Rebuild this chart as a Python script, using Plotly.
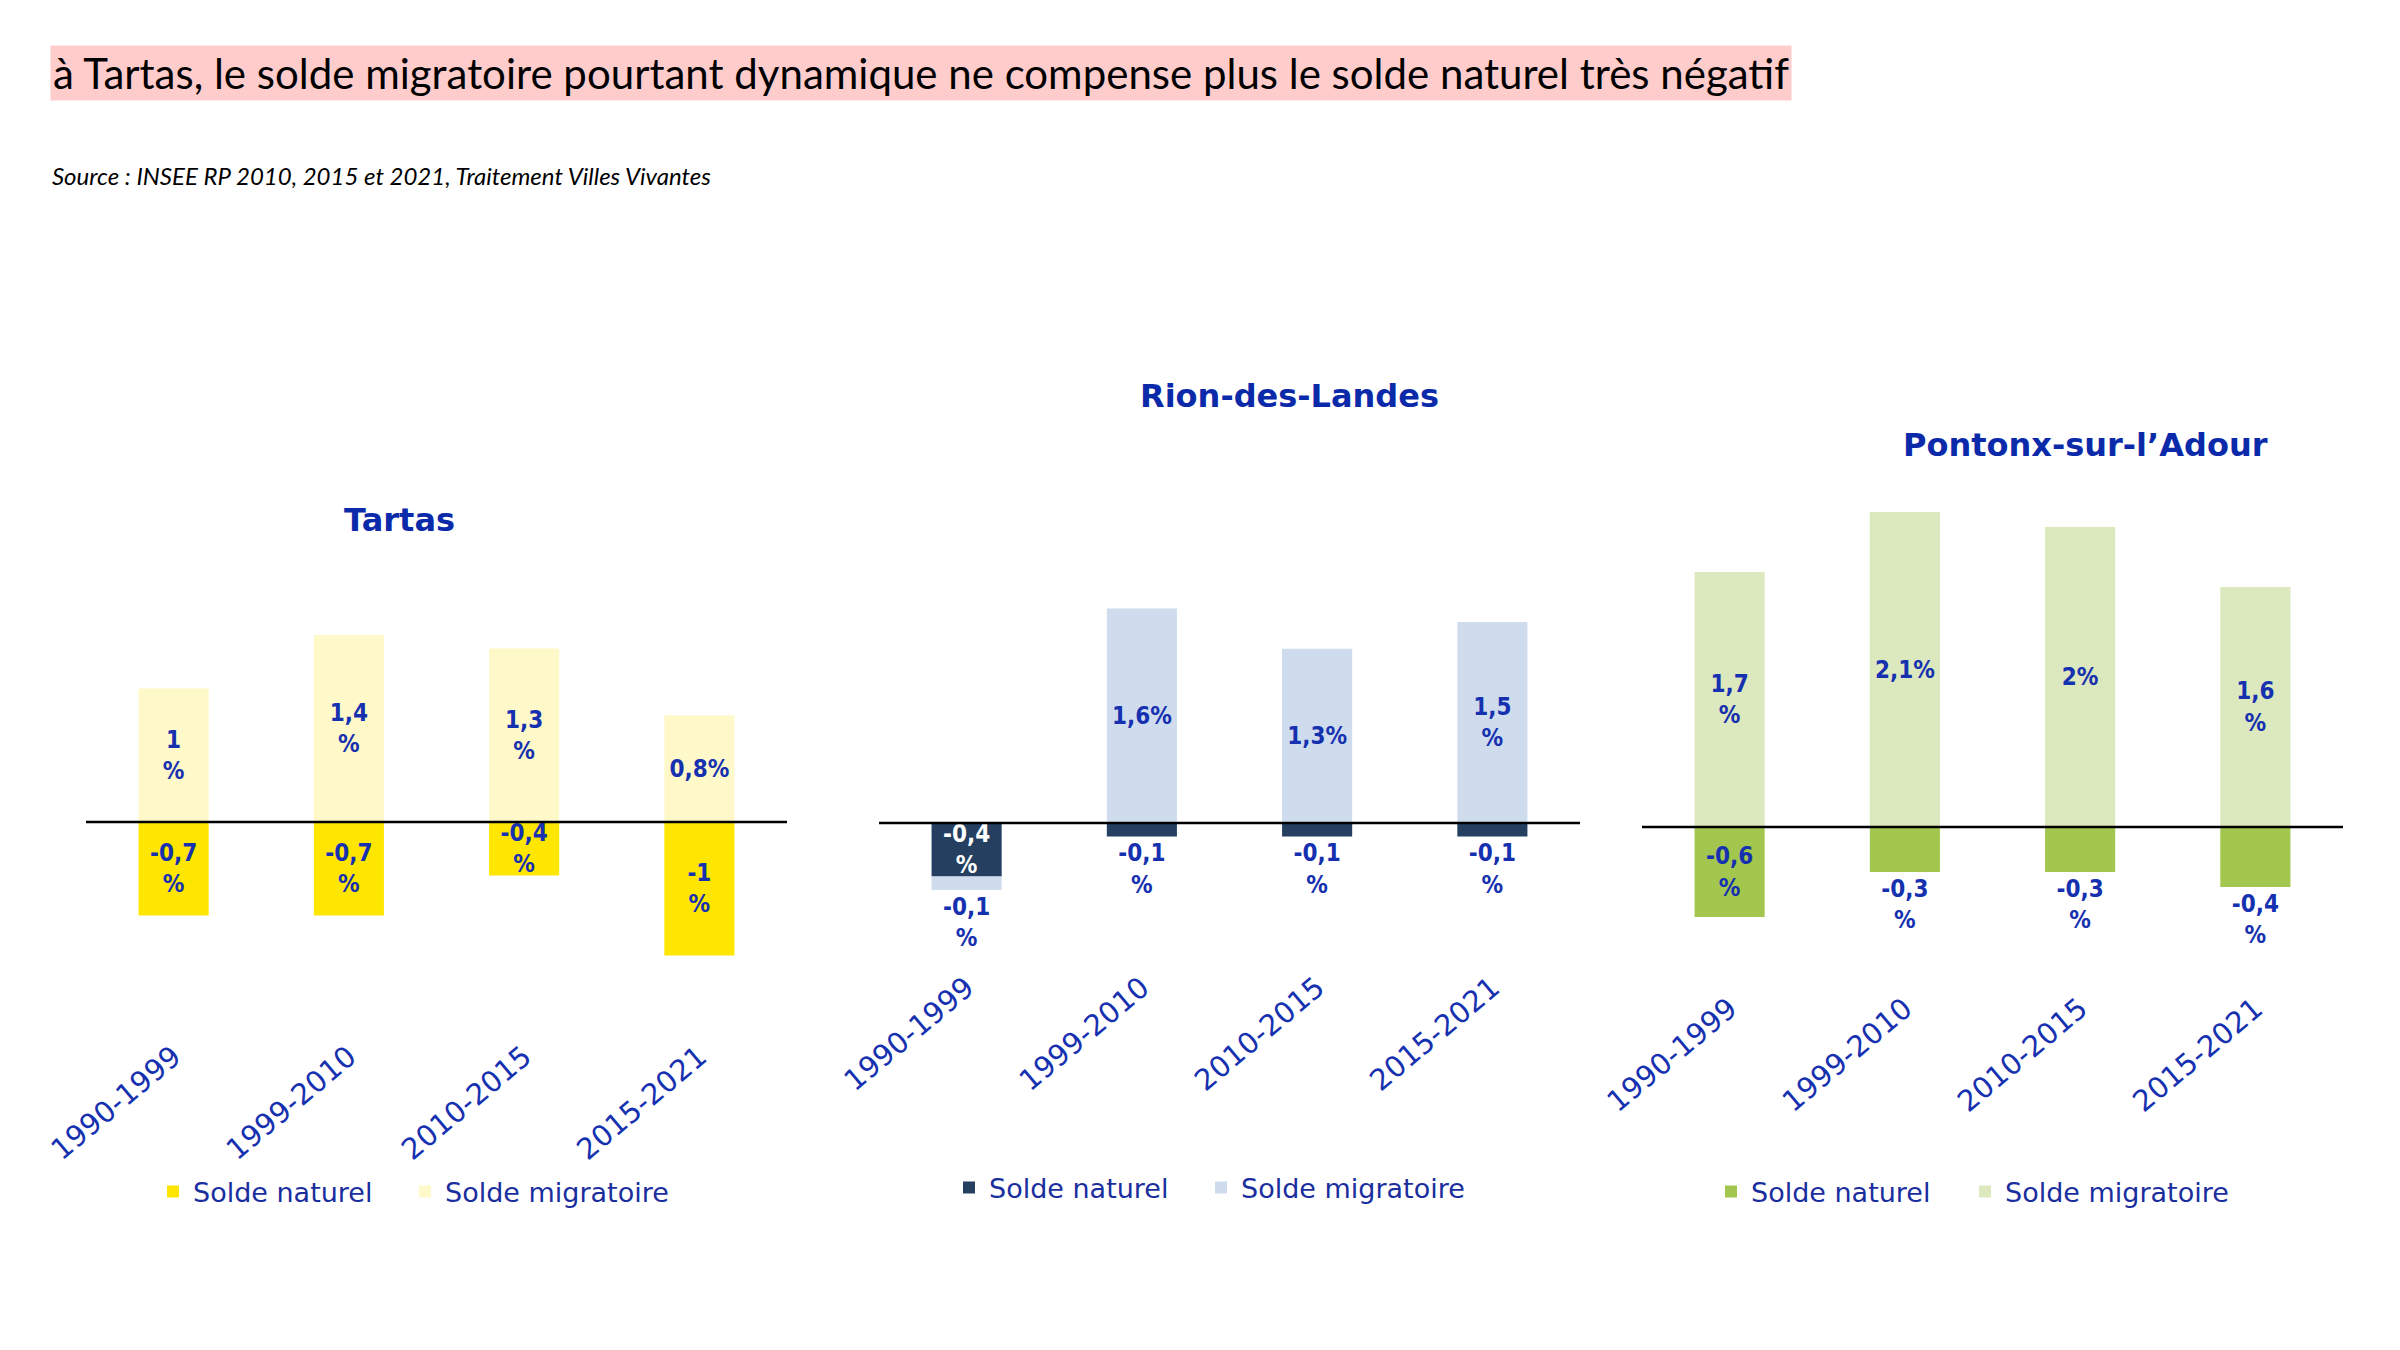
import plotly.graph_objects as go

# ---------------- data ----------------
periodes = ["1990-1999", "1999-2010", "2010-2015", "2015-2021"]
communes = ["Tartas", "Rion-des-Landes", "Pontonx-sur-l’Adour"]
series_names = ["Solde naturel", "Solde migratoire"]

tartas_naturel = [-0.7, -0.7, -0.4, -1.0]
tartas_migratoire = [1.0, 1.4, 1.3, 0.8]
rion_naturel = [-0.4, -0.1, -0.1, -0.1]
rion_migratoire = [-0.1, 1.6, 1.3, 1.5]
pontonx_naturel = [-0.6, -0.3, -0.3, -0.4]
pontonx_migratoire = [1.7, 2.1, 2.0, 1.6]

# data labels as printed on the chart (line breaks as in the source)
tartas_naturel_labels = ["-0,7<br>%", "-0,7<br>%", "-0,4<br>%", "-1<br>%"]
tartas_migratoire_labels = ["1<br>%", "1,4<br>%", "1,3<br>%", "0,8%"]
rion_naturel_labels = ["-0,4<br>%", "-0,1<br>%", "-0,1<br>%", "-0,1<br>%"]
rion_migratoire_labels = ["-0,1<br>%", "1,6%", "1,3%", "1,5<br>%"]
pontonx_naturel_labels = ["-0,6<br>%", "-0,3<br>%", "-0,3<br>%", "-0,4<br>%"]
pontonx_migratoire_labels = ["1,7<br>%", "2,1%", "2%", "1,6<br>%"]

titre = "à Tartas, le solde migratoire pourtant dynamique ne compense plus le solde naturel très négatif"
source = "Source : INSEE RP 2010, 2015 et 2021, Traitement Villes Vivantes"

# ---------------- style / layout ----------------
W, H = 2400, 1350
BLUE = "#1631B0"
TITLE_BLUE = "#0B2AAA"
LEGEND_BLUE = "#1A2E9E"
FONT = "DejaVu Sans"
LABEL_FONT = "DejaVu Sans Condensed, DejaVu Sans"

panels = [
    dict(nat=tartas_naturel, mig=tartas_migratoire,
         nat_lab=tartas_naturel_labels, mig_lab=tartas_migratoire_labels,
         xpx=(86, 787), base=822, ppu=133.5, top=540, bottom=1033,
         colors=("#FFE600", "#FFF9C9"),
         nat_pos=["inside"] * 4, mig_pos=["inside"] * 4,
         nat_col=[BLUE] * 4, mig_col=[BLUE] * 4,
         title_pos=(399, 520), leg=((153, 405), 1192)),
    dict(nat=rion_naturel, mig=rion_migratoire,
         nat_lab=rion_naturel_labels, mig_lab=rion_migratoire_labels,
         xpx=(879, 1580), base=823, ppu=134, top=540, bottom=964,
         colors=("#243F60", "#CFDCEE"),
         nat_pos=["inside", "outside", "outside", "outside"],
         mig_pos=["outside", "inside", "inside", "inside"],
         nat_col=["white", BLUE, BLUE, BLUE], mig_col=[BLUE] * 4,
         title_pos=(1289, 396), leg=((949, 1201), 1188)),
    dict(nat=pontonx_naturel, mig=pontonx_migratoire,
         nat_lab=pontonx_naturel_labels, mig_lab=pontonx_migratoire_labels,
         xpx=(1642, 2343), base=827, ppu=150, top=430, bottom=985,
         colors=("#A2C64E", "#DCE8BD"),
         nat_pos=["inside", "outside", "outside", "outside"],
         mig_pos=["inside"] * 4,
         nat_col=[BLUE] * 4, mig_col=[BLUE] * 4,
         title_pos=(2085, 445), leg=((1711, 1965), 1192)),
]


def ydom(base, ppu, top, bottom):
    ymax = (base - top) / ppu
    ymin = -(bottom - base) / ppu
    return [(H - bottom) / H, (H - top) / H], [ymin, ymax]


fig = go.Figure()
layout = dict(
    width=W, height=H, margin=dict(l=0, r=0, t=0, b=0, autoexpand=False),
    paper_bgcolor="white", plot_bgcolor="white",
    barmode="relative", bargap=0.6, showlegend=True,
    uniformtext=dict(minsize=24, mode="show"),
)
annotations = []
shapes = []
leg_count = 0

for i, p in enumerate(panels):
    n = "" if i == 0 else str(i + 1)
    xa, ya = "x" + n, "y" + n
    series = [
        (p["nat"], p["nat_lab"], p["nat_pos"], p["nat_col"], p["colors"][0]),
        (p["mig"], p["mig_lab"], p["mig_pos"], p["mig_col"], p["colors"][1]),
    ]
    for k, (vals, labs, pos, cols, color) in enumerate(series):
        leg_count += 1
        leg = "legend" if leg_count == 1 else "legend" + str(leg_count)
        fig.add_trace(go.Bar(
            x=periodes, y=vals, name=series_names[k], xaxis=xa, yaxis=ya,
            legend=leg,
            marker=dict(color=color, line=dict(width=0)),
            text=labs, textposition=pos, textangle=0,
            insidetextanchor="middle", constraintext="none", cliponaxis=False,
            textfont=dict(family=LABEL_FONT, size=24, color=cols, weight="bold"),
            hoverinfo="skip",
        ))
        layout[leg] = dict(
            orientation="h", x=p["leg"][0][k] / W, xanchor="left",
            y=(H - p["leg"][1]) / H, yanchor="middle",
            font=dict(family=FONT, size=27, color=LEGEND_BLUE),
            bgcolor="rgba(0,0,0,0)", itemwidth=30,
        )
    dom, rng = ydom(p["base"], p["ppu"], p["top"], p["bottom"])
    layout["xaxis" + n] = dict(
        domain=[p["xpx"][0] / W, p["xpx"][1] / W], anchor=ya,
        range=[-0.5, 3.5], tickangle=-40, ticks="", showline=False,
        showgrid=False, zeroline=False, automargin=False,
        tickfont=dict(family=FONT, size=29, color=BLUE),
    )
    layout["yaxis" + n] = dict(domain=dom, range=rng, anchor=xa,
                               visible=False, automargin=False)
    shapes.append(dict(type="line", xref=xa + " domain", x0=0, x1=1,
                       yref=ya, y0=0, y1=0, layer="above",
                       line=dict(color="black", width=2.5)))
    annotations.append(dict(
        text="<b>" + communes[i] + "</b>", xref="paper", yref="paper",
        x=p["title_pos"][0] / W, y=(H - p["title_pos"][1]) / H,
        xanchor="center", yanchor="middle", showarrow=False,
        font=dict(family=FONT, size=32, color=TITLE_BLUE)))

annotations.append(dict(
    text=titre, xref="paper", yref="paper", x=50 / W, y=(H - 73) / H,
    xanchor="left", yanchor="middle", showarrow=False,
    bgcolor="#FFCCCC", borderpad=2,
    font=dict(family="Lato", size=42, color="black")))
annotations.append(dict(
    text="<i>" + source + "</i>", xref="paper", yref="paper",
    x=50 / W, y=(H - 175) / H, xanchor="left", yanchor="middle",
    showarrow=False, font=dict(family="Lato", size=24, color="black")))

layout["annotations"] = annotations
layout["shapes"] = shapes
fig.update_layout(**layout)
fig.write_html("out.html")
